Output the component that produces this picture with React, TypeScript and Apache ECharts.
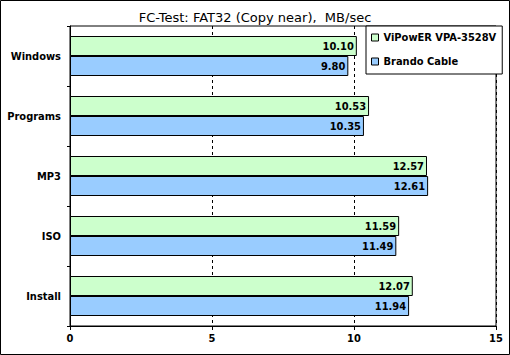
import React, { useEffect, useRef } from "react";
import * as echarts from "echarts";

const categories = ["Windows", "Programs", "MP3", "ISO", "Install"];
const seriesNames = ["ViPowER VPA-3528V", "Brando Cable"];
const vipowerValues = [10.10, 10.53, 12.57, 11.59, 12.07];
const brandoValues = [9.80, 10.35, 12.61, 11.49, 11.94];
const xTicks = [0, 5, 10, 15];

const FONT = "DejaVu Sans, Verdana, sans-serif";
const BOLD_FONT = "DejaVu Sans Condensed, DejaVu Sans, Tahoma, sans-serif";

export default function App() {
  const ref = useRef<HTMLDivElement>(null);
  useEffect(() => {
    document.body.style.margin = "0";
    const chart = echarts.init(ref.current!, null, { renderer: "svg" });
    const labelStyle = {
      show: true,
      position: "insideRight" as const,
      distance: 3,
      color: "#000",
      fontFamily: BOLD_FONT,
      fontWeight: "bold" as const,
      fontSize: 11,
      formatter: (p: any) => Number(p.value).toFixed(2),
    };
    chart.setOption({
      animation: false,
      backgroundColor: "#fff",
      title: {
        text: "FC-Test: FAT32 (Copy near),  MB/sec",
        left: "center",
        top: 6,
        textStyle: { fontFamily: FONT, fontSize: 13, fontWeight: "normal", color: "#000" },
      },
      legend: {
        data: seriesNames,
        orient: "vertical",
        left: 366,
        top: 26,
        width: 130,
        padding: [5, 6, 6, 5],
        itemGap: 11,
        itemWidth: 7,
        itemHeight: 7,
        icon: "rect",
        backgroundColor: "#fff",
        borderColor: "#000",
        borderWidth: 1,
        borderRadius: 0,
        textStyle: { fontFamily: BOLD_FONT, fontSize: 11, fontWeight: "bold", color: "#000", lineHeight: 13 },
        itemStyle: { borderColor: "#000", borderWidth: 1 },
      },
      grid: {
        left: 70,
        right: 14,
        top: 26,
        bottom: 29,
        show: true,
        borderColor: "#000",
        borderWidth: 1,
        backgroundColor: "transparent",
      },
      xAxis: {
        type: "value",
        min: xTicks[0],
        max: xTicks[xTicks.length - 1],
        interval: 5,
        axisLine: { show: true, lineStyle: { color: "#000", width: 1 } },
        axisTick: { show: true, length: 4, lineStyle: { color: "#000" } },
        axisLabel: { fontFamily: BOLD_FONT, fontSize: 11, fontWeight: "bold", color: "#000", margin: 7 },
        splitLine: { show: true, lineStyle: { color: "#000", type: [3, 3], width: 1 } },
      },
      yAxis: {
        type: "category",
        data: categories,
        inverse: true,
        axisLine: { show: true, lineStyle: { color: "#000", width: 1 } },
        axisTick: { show: true, length: 3, lineStyle: { color: "#000" } },
        axisLabel: { fontFamily: BOLD_FONT, fontSize: 11, fontWeight: "bold", color: "#000", margin: 9 },
        splitLine: { show: false },
      },
      series: [
        {
          name: seriesNames[0],
          type: "bar",
          data: vipowerValues,
          barWidth: 20,
          barGap: "0%",
          itemStyle: { color: "#CCFFCC", borderColor: "#000", borderWidth: 1 },
          label: labelStyle,
        },
        {
          name: seriesNames[1],
          type: "bar",
          data: brandoValues,
          barWidth: 20,
          barGap: "0%",
          itemStyle: { color: "#99CCFF", borderColor: "#000", borderWidth: 1 },
          label: labelStyle,
        },
      ],
      graphic: [
        {
          type: "rect",
          shape: { x: 0.5, y: 0.5, width: 509, height: 354 },
          style: { fill: "none", stroke: "#000", lineWidth: 1 },
          silent: true,
        },
      ],
    });
    return () => chart.dispose();
  }, []);
  return <div ref={ref} style={{ width: 510, height: 355, position: "absolute", left: 0, top: 0 }} />;
}
